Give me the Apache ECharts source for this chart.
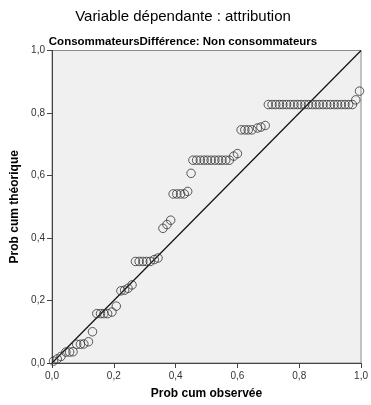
<!DOCTYPE html>
<html>
<head>
<meta charset="utf-8">
<script src="https://cdn.jsdelivr.net/npm/echarts@6/dist/echarts.min.js"></script>
<style>
  html, body { margin: 0; padding: 0; background: #ffffff; }
  #chart { width: 371px; height: 405px; }
</style>
</head>
<body>
<div id="chart"></div>
<script>
// P-P plot of standardized residuals
const chartTitle = 'Variable dépendante : attribution';
const chartSubtitle = 'ConsommateursDifférence: Non consommateurs';
const xAxisName = 'Prob cum observée';
const yAxisName = 'Prob cum théorique';

// Observed cumulative probability of each residual
const observed = [
  0.005, 0.017, 0.029, 0.045, 0.057, 0.068, 0.080, 0.092, 0.103, 0.118,
  0.131, 0.145, 0.157, 0.168, 0.180, 0.194, 0.208, 0.223, 0.235, 0.246,
  0.259, 0.270, 0.282, 0.294, 0.306, 0.318, 0.331, 0.343, 0.359, 0.372,
  0.384, 0.392, 0.404, 0.416, 0.428, 0.439, 0.450, 0.456, 0.468, 0.480,
  0.492, 0.503, 0.515, 0.527, 0.539, 0.550, 0.562, 0.574, 0.588, 0.600,
  0.612, 0.624, 0.635, 0.647, 0.665, 0.676, 0.690, 0.700, 0.712, 0.724,
  0.736, 0.747, 0.759, 0.771, 0.783, 0.795, 0.806, 0.818, 0.830, 0.842,
  0.854, 0.865, 0.877, 0.889, 0.901, 0.913, 0.924, 0.936, 0.948, 0.960,
  0.972, 0.983, 0.995
];

// Expected (normal) cumulative probability of each residual
const expected = [
  0.006, 0.013, 0.021, 0.035, 0.035, 0.036, 0.060, 0.060, 0.061, 0.068,
  0.100, 0.158, 0.158, 0.158, 0.158, 0.163, 0.182, 0.231, 0.233, 0.239,
  0.250, 0.325, 0.325, 0.325, 0.325, 0.325, 0.331, 0.336, 0.431, 0.443,
  0.457, 0.541, 0.541, 0.541, 0.541, 0.549, 0.607, 0.649, 0.649, 0.649,
  0.649, 0.649, 0.649, 0.649, 0.649, 0.649, 0.649, 0.649, 0.662, 0.670,
  0.746, 0.746, 0.746, 0.746, 0.752, 0.755, 0.760, 0.827, 0.827, 0.827,
  0.827, 0.827, 0.827, 0.827, 0.827, 0.827, 0.827, 0.827, 0.827, 0.827,
  0.827, 0.827, 0.827, 0.827, 0.827, 0.827, 0.827, 0.827, 0.827, 0.827,
  0.827, 0.842, 0.870
];

// Reference diagonal (observed = expected)
const diagonal = [0, 1];

const points = observed.map((x, i) => [x, expected[i]]);
const fmt = v => v.toFixed(1).replace('.', ',');
const FONT = '"Liberation Sans", Arial, sans-serif';

const chart = echarts.init(document.getElementById('chart'), null, { renderer: 'canvas' });

chart.setOption({
  backgroundColor: '#ffffff',
  animation: false,
  title: [
    {
      text: chartTitle,
      left: 183, top: 9, textAlign: 'center', padding: 0,
      textStyle: { fontFamily: FONT, fontSize: 15, fontWeight: 'normal', color: '#000' }
    },
    {
      text: chartSubtitle,
      left: 183, top: 36, textAlign: 'center', padding: 0,
      textStyle: { fontFamily: FONT, fontSize: 11.5, fontWeight: 'bold', color: '#000' }
    }
  ],
  grid: {
    left: 52, right: 9, top: 50.5, bottom: 42,
    show: true, backgroundColor: '#f0f0f0', borderColor: '#8c8c8c', borderWidth: 1
  },
  xAxis: {
    type: 'value', min: 0, max: 1, interval: 0.2,
    name: xAxisName, nameLocation: 'middle', nameGap: 25,
    nameTextStyle: { fontFamily: FONT, fontSize: 12, fontWeight: 'bold', color: '#000' },
    axisLine: { show: true, lineStyle: { color: '#444', width: 1 } },
    axisTick: { show: true, length: 5, lineStyle: { color: '#444' } },
    axisLabel: { formatter: fmt, margin: 8, fontFamily: FONT, fontSize: 10, color: '#333' },
    splitLine: { show: false }
  },
  yAxis: {
    type: 'value', min: 0, max: 1, interval: 0.2,
    name: yAxisName, nameLocation: 'middle', nameGap: 25, nameRotate: 90,
    nameTextStyle: { fontFamily: FONT, fontSize: 12, fontWeight: 'bold', color: '#000' },
    axisLine: { show: true, lineStyle: { color: '#444', width: 1 } },
    axisTick: { show: true, length: 5, lineStyle: { color: '#444' } },
    axisLabel: { formatter: fmt, margin: 7, fontFamily: FONT, fontSize: 10, color: '#333' },
    splitLine: { show: false }
  },
  series: [
    {
      type: 'line',
      data: [[diagonal[0], diagonal[0]], [diagonal[1], diagonal[1]]],
      symbol: 'none',
      lineStyle: { color: '#111', width: 1.2 },
      silent: true, z: 2
    },
    {
      type: 'scatter',
      data: points,
      symbol: 'circle', symbolSize: 8.5,
      itemStyle: { color: 'rgba(0,0,0,0)', borderColor: '#333', borderWidth: 1 },
      z: 3
    }
  ]
});
</script>
</body>
</html>
